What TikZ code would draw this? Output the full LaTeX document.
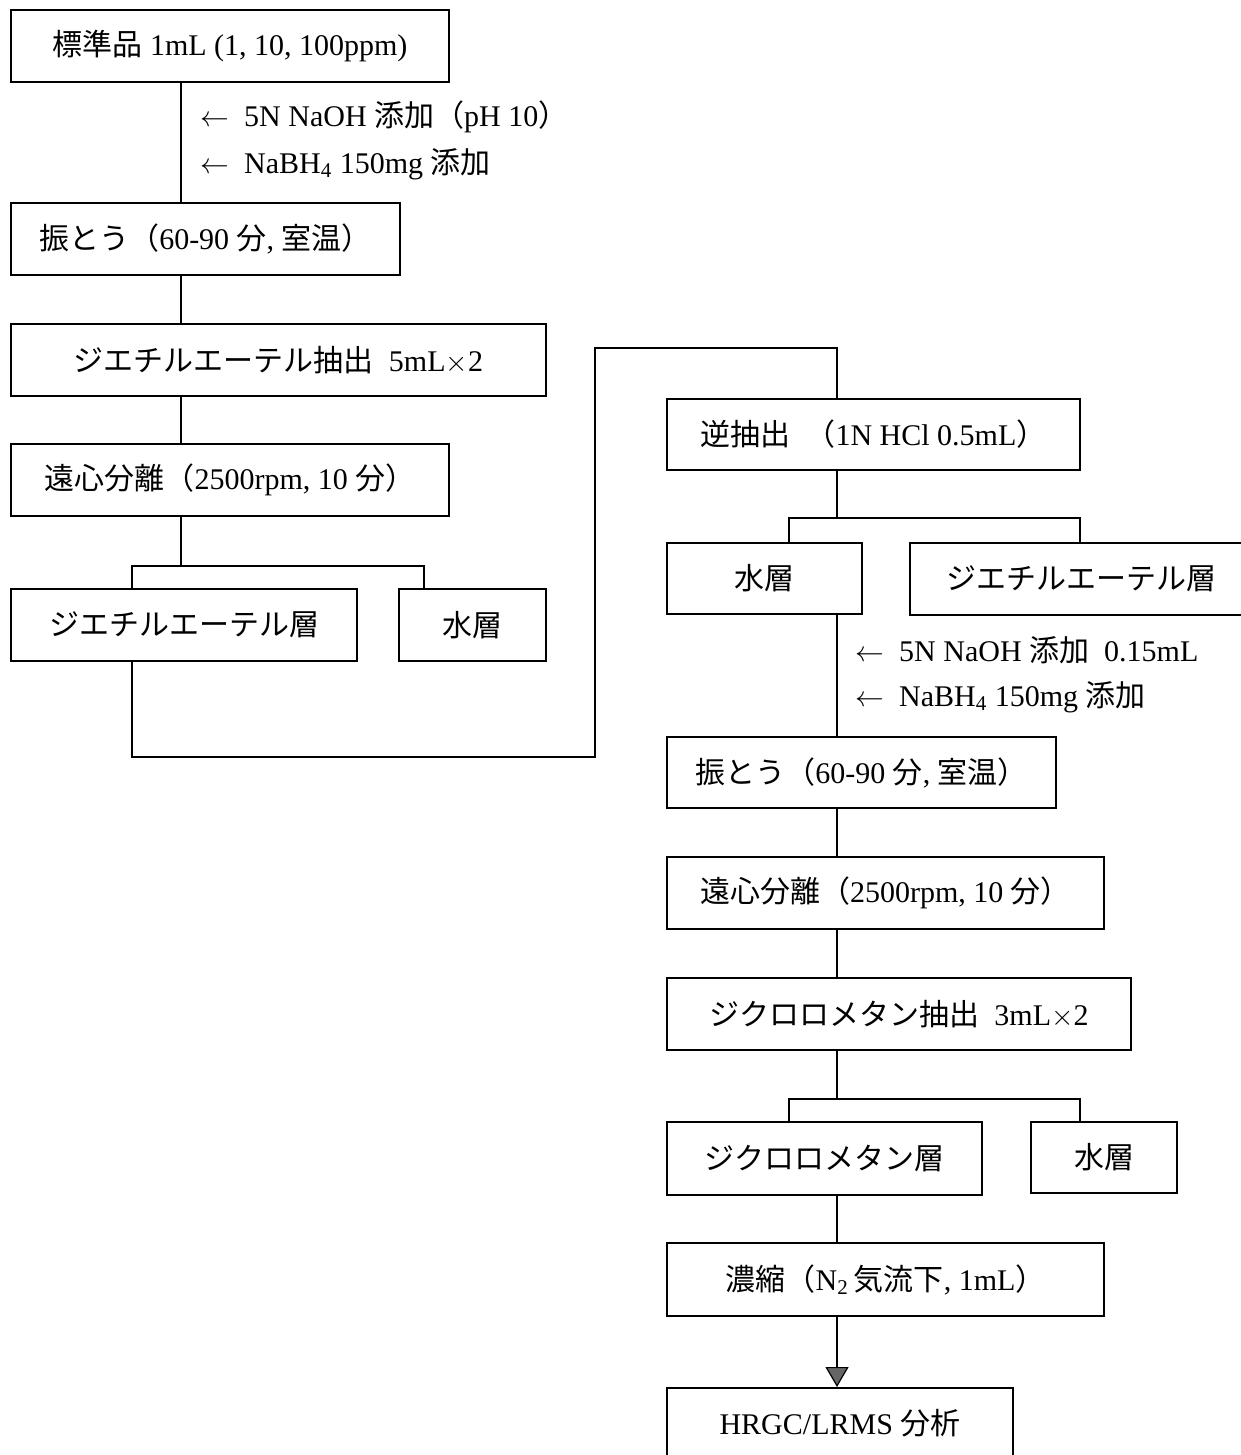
\documentclass[tikz,border=0pt]{standalone}
\usepackage{fontspec}
\setmainfont{Liberation Serif}
\newfontfamily\jpfont{Noto Sans CJK JP}
\newcommand{\jtxt}[1]{{\jpfont #1}}
\usetikzlibrary{arrows.meta}
\begin{document}
\begin{tikzpicture}[x=0.5pt,y=-0.5pt,
  box/.style={draw,line width=1pt,inner sep=0pt,font=\fontsize{15}{18}\selectfont},
  lbl/.style={anchor=west,inner sep=0pt,font=\fontsize{15}{18}\selectfont},
  link/.style={line width=1pt}]
\useasboundingbox (0,0) rectangle (1241,1455);
\clip (0,0) rectangle (1241,1455);
\fill[white] (0,0) rectangle (1241,1455);
% left column
\node[box,minimum width=219pt,minimum height=36pt] (b1) at (230,46) {\jtxt{標準品} 1mL (1, 10, 100ppm)};
\node[box,minimum width=194.5pt,minimum height=36pt] (b2) at (205.5,239) {\jtxt{振とう（}60-90 \jtxt{分}, \jtxt{室温）}};
\node[box,minimum width=267.5pt,minimum height=36pt] (b3) at (278.5,360) {\jtxt{ジエチルエーテル抽出}\ \ 5mL$\times$2};
\node[box,minimum width=219pt,minimum height=36pt] (b4) at (230,480) {\jtxt{遠心分離（}2500rpm, 10 \jtxt{分）}};
\node[box,minimum width=173pt,minimum height=36pt] (b5) at (184,625) {\jtxt{ジエチルエーテル層}};
\node[box,minimum width=73.5pt,minimum height=36pt] (b6) at (472.5,625) {\jtxt{水層}};
% right column
\node[box,minimum width=206.5pt,minimum height=35.5pt] (b7) at (873.5,434.5) {\jtxt{逆抽出}\ \ \jtxt{（}1N HCl 0.5mL\jtxt{）}};
\node[box,minimum width=97.5pt,minimum height=35.5pt] (b8) at (764.5,578.5) {\jtxt{水層}};
\node[box,minimum width=171pt,minimum height=36pt] (b9) at (1081,579) {\jtxt{ジエチルエーテル層}};
\node[box,minimum width=194.5pt,minimum height=35.5pt] (b10) at (861.5,772.5) {\jtxt{振とう（}60-90 \jtxt{分}, \jtxt{室温）}};
\node[box,minimum width=218.5pt,minimum height=36pt] (b11) at (885.5,893) {\jtxt{遠心分離（}2500rpm, 10 \jtxt{分）}};
\node[box,minimum width=232pt,minimum height=36pt] (b12) at (899,1014) {\jtxt{ジクロロメタン抽出}\ \ 3mL$\times$2};
\node[box,minimum width=157.5pt,minimum height=36.5pt] (b13) at (824.5,1158.5) {\jtxt{ジクロロメタン層}};
\node[box,minimum width=73pt,minimum height=35.5pt] (b14) at (1104,1157.5) {\jtxt{水層}};
\node[box,minimum width=218.5pt,minimum height=36.5pt] (b15) at (885.5,1279.5) {\jtxt{濃縮（}N\textsubscript{2}\,\jtxt{気流下}, 1mL\jtxt{）}};
\node[box,minimum width=173pt,minimum height=35pt] (b16) at (840,1423) {HRGC/LRMS \jtxt{分析}};
% labels
\node[lbl] (l1) at (200,117) {$\leftarrow$\ \ 5N NaOH \jtxt{添加（}pH 10\jtxt{）}};
\node[lbl] (l2) at (200,164) {$\leftarrow$\ \ NaBH\textsubscript{4} 150mg \jtxt{添加}};
\node[lbl] (l3) at (855,650) {$\leftarrow$\ \ 5N NaOH \jtxt{添加}\ \ 0.15mL};
\node[lbl] (l4) at (855,697) {$\leftarrow$\ \ NaBH\textsubscript{4} 150mg \jtxt{添加}};
% connectors left
\draw[link] (181,0 |- b1.south) -- (181,0 |- b2.north);
\draw[link] (181,0 |- b2.south) -- (181,0 |- b3.north);
\draw[link] (181,0 |- b3.south) -- (181,0 |- b4.north);
\draw[link] (181,0 |- b4.south) -- (181,566);
\draw[link] (132,0 |- b5.north) |- (424,566) -- (424,0 |- b6.north);
\draw[link] (132,0 |- b5.south) |- (595,757) |- (837,348) -- (837,0 |- b7.north);
% connectors right
\draw[link] (837,0 |- b7.south) -- (837,518);
\draw[link] (789,0 |- b8.north) |- (1080,518) -- (1080,0 |- b9.north);
\draw[link] (837,0 |- b8.south) -- (837,0 |- b10.north);
\draw[link] (837,0 |- b10.south) -- (837,0 |- b11.north);
\draw[link] (837,0 |- b11.south) -- (837,0 |- b12.north);
\draw[link] (837,0 |- b12.south) -- (837,1099);
\draw[link] (789,0 |- b13.north) |- (1080,1099) -- (1080,0 |- b14.north);
\draw[link] (837,0 |- b13.south) -- (837,0 |- b15.north);
\draw[link,-{Triangle[width=11.5pt,length=10pt,fill=black!60,line width=0.6pt]}] (837,0 |- b15.south) -- (837,0 |- b16.north);
\end{tikzpicture}
\end{document}
